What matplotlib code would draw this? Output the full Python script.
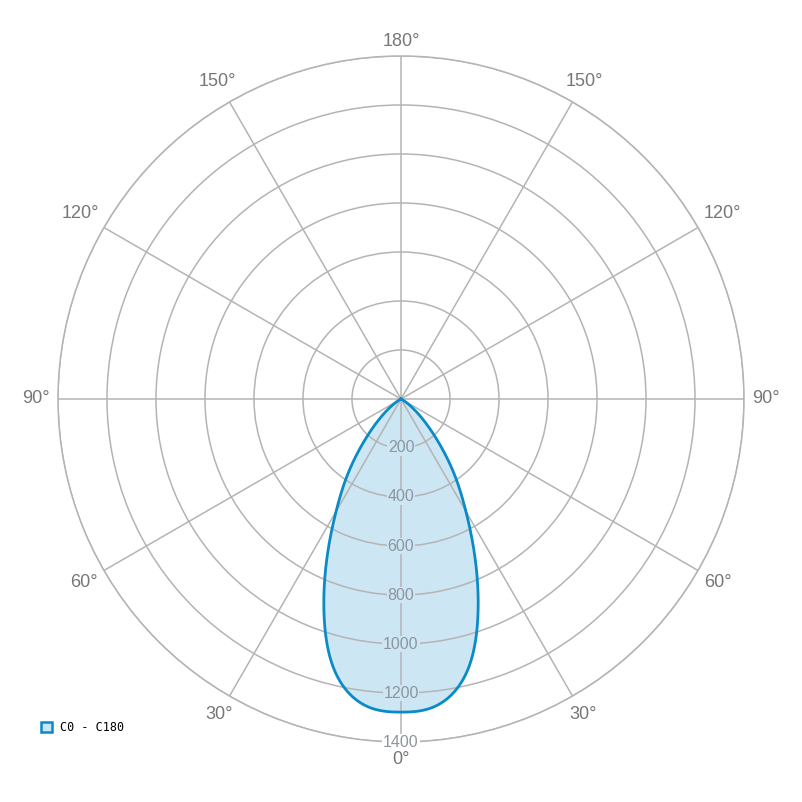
import numpy as np
import matplotlib
matplotlib.use("Agg")
import matplotlib.pyplot as plt
from matplotlib.patches import Patch

# Data: luminous intensity (cd) vs gamma angle, symmetric C0 - C180 plane
gamma_deg = [0, 5, 10, 15, 20, 25, 30, 35, 40, 45, 50, 55, 60, 65, 70, 80, 90]
intensity = [1278, 1270, 1220, 1105, 920, 715, 530, 385, 255, 155, 85, 38, 12, 3, 0, 0, 0]
series_name = "C0 - C180"
r_ticks = [200, 400, 600, 800, 1000, 1200, 1400]
theta_ticks = [0, 30, 60, 90, 120, 150, 180, 210, 240, 270, 300, 330]
theta_labels = ["0°", "30°", "60°", "90°", "120°", "150°", "180°", "150°", "120°", "90°", "60°", "30°"]

line_color = "#0a8ac6"
fill_color = "#cde6f3"
grid_color = "#b4b4b4"


def natural_spline(x, y, xn):
    x = np.asarray(x, float); y = np.asarray(y, float)
    n = len(x); h = np.diff(x)
    A = np.zeros((n, n)); b = np.zeros(n)
    A[0, 0] = A[-1, -1] = 1
    for i in range(1, n - 1):
        A[i, i-1] = h[i-1]; A[i, i] = 2*(h[i-1] + h[i]); A[i, i+1] = h[i]
        b[i] = 3*((y[i+1] - y[i])/h[i] - (y[i] - y[i-1])/h[i-1])
    c = np.linalg.solve(A, b)
    bb = (y[1:] - y[:-1])/h - h*(2*c[:-1] + c[1:])/3
    d = (c[1:] - c[:-1])/(3*h)
    idx = np.clip(np.searchsorted(x, xn) - 1, 0, n - 2)
    t = xn - x[idx]
    return y[idx] + bb[idx]*t + c[idx]*t**2 + d[idx]*t**3


fig = plt.figure(figsize=(8.02, 8.02), dpi=100)
ax = fig.add_axes([0.0723, 0.0748, 0.8554, 0.8554], projection="polar")
ax.set_theta_zero_location("S")
ax.set_theta_direction(1)

# mirror the half-curve for the symmetric plane
g = np.array(gamma_deg, dtype=float)
I = np.array(intensity, dtype=float)
th = np.concatenate([-g[::-1], g[1:]])
rr = np.concatenate([I[::-1], I[1:]])
th_f = np.linspace(th.min(), th.max(), 1441)
rr_f = np.clip(natural_spline(th, rr, th_f), 0, None)
rr_f[np.abs(th_f) >= 68] = 0
tt = np.deg2rad(th_f)

ax.fill(tt, rr_f, color=fill_color, zorder=2, linewidth=0)
ax.plot(tt, rr_f, color=line_color, linewidth=2, zorder=4)

rmax = r_ticks[-1]
ax.set_ylim(0, rmax)
ax.set_rticks(r_ticks)
ax.set_yticklabels([])
ax.set_thetagrids(theta_ticks, [""] * len(theta_ticks))
ax.grid(True, color=grid_color, linewidth=1.1, zorder=3)
ax.set_axisbelow(False)
ax.spines["polar"].set_color(grid_color)
ax.spines["polar"].set_linewidth(1.1)

# radial labels along the 0° ray
for rv in r_ticks:
    inside = rv < 1270
    ax.text(0, rv, str(rv), ha="center", va="center", fontsize=11.5,
            color="#8c969c", family="Liberation Sans", zorder=5,
            bbox=dict(boxstyle="square,pad=0.05", fc=fill_color if inside else "white", ec="none"))

# angular labels placed just outside the outer circle
ann = []
for tdeg, lab in zip(theta_ticks, theta_labels):
    a = ax.annotate(lab, xy=(np.deg2rad(tdeg), rmax), xytext=(0, 0), textcoords="offset pixels",
                    ha="center", va="center", fontsize=13, color="#777777",
                    family="Liberation Sans", annotation_clip=False, zorder=7)
    ann.append((tdeg, a))
fig.canvas.draw()
r = fig.canvas.get_renderer()
for tdeg, a in ann:
    bb = a.get_window_extent(r)
    w, h = bb.width, bb.height * 0.8
    s, c = np.sin(np.deg2rad(tdeg)), -np.cos(np.deg2rad(tdeg))
    d = 8 + 0.5 * (w * abs(s) + h * abs(c))
    dx, dy = d * s, d * c
    if c < -0.9:
        dy -= 3
    a.xyann = (dx, dy)

handle = Patch(facecolor=fill_color, edgecolor=line_color, linewidth=1.8, label=series_name)
fig.legend(handles=[handle], loc="lower left", bbox_to_anchor=(0.038, 0.071), frameon=False,
           handlelength=0.9, handleheight=0.9, handletextpad=0.7,
           prop=dict(family="DejaVu Sans Mono", size=8.5))

fig.savefig("out.png", dpi=100, facecolor="white")
